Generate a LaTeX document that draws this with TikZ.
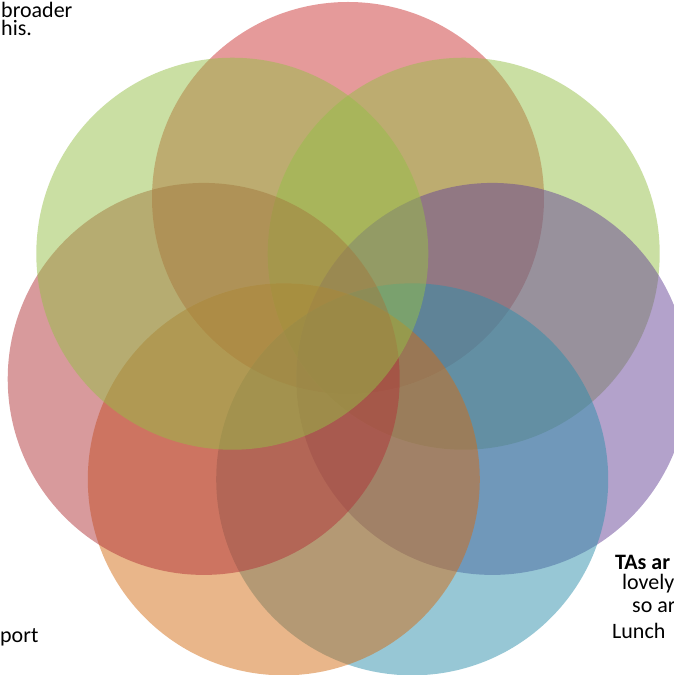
\documentclass[tikz,border=0pt]{standalone}
\usepackage{fontspec}
\setmainfont{Carlito}
\usetikzlibrary{calc}
\definecolor{redA}{HTML}{CB3535}
\definecolor{redB}{HTML}{B13539}
\definecolor{greenA}{HTML}{95BF47}
\definecolor{purpleA}{HTML}{674597}
\definecolor{blueA}{HTML}{2F8FAB}
\definecolor{orangeA}{HTML}{D36D15}
\begin{document}
\begin{tikzpicture}[x=1pt, y=1pt, font=\fontsize{22}{18}\selectfont]
  \tikzset{blob/.style={circle, minimum size=392pt, inner sep=0pt, fill opacity=0.5}, txt/.style={anchor=base west, inner sep=0pt}}
  \useasboundingbox (0,0) rectangle (674,675);
  \coordinate (mid) at (348,329);
  % seven petals round the middle, clockwise from the top one
  \foreach \k/\col in {0/redA, 1/greenA, 2/purpleA, 3/blueA, 4/orangeA, 5/redB, 6/greenA}
    \node[blob, fill=\col] (p\k) at ($(mid)+({90-\k*360/7}:148)$) {};
  % text cut off at the page edges
  \node[txt, align=left] (broad) at (1,639) {broader\\his.};
  \node[txt] (port) at (0,32) {port};
  \node[txt, font=\fontsize{22}{18}\selectfont\bfseries] (tas) at (615,105) {TAs ar};
  \node[txt] (lovely) at (622,85) {lovely};
  \node[txt] (soar) at (632,62) {so ar};
  \node[txt] (lunch) at (612,36) {Lunch};
\end{tikzpicture}
\end{document}
